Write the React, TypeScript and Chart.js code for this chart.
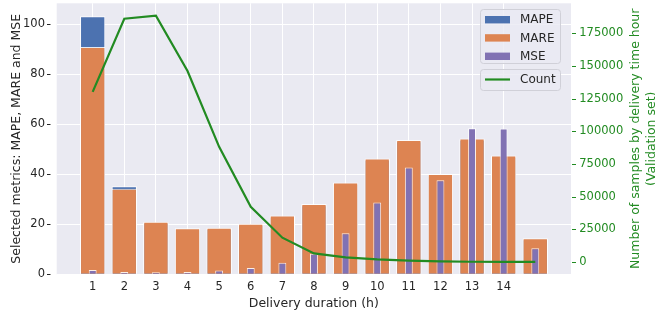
import React, { useEffect, useRef } from 'react';
import { Chart, registerables } from 'chart.js';

Chart.register(...registerables);

// ---- data ----
const durations = [1, 2, 3, 4, 5, 6, 7, 8, 9, 10, 11, 12, 13, 14, 15];
const xTickValues = [1, 2, 3, 4, 5, 6, 7, 8, 9, 10, 11, 12, 13, 14];
const xTickLabels = ['1', '2', '3', '4', '5', '6', '7', '8', '9', '10', '11', '12', '13', '14'];
const mapeValues = [103.1, 35.2, 20.6, 18.0, 18.2, 19.8, 23.0, 27.6, 36.2, 45.8, 53.2, 39.6, 53.8, 47.0, 14.0];
const mareValues = [90.8, 34.2, 21.0, 18.4, 18.6, 20.2, 23.5, 28.1, 36.7, 46.3, 53.7, 40.1, 54.3, 47.5, 14.4];
const mseValues = [1.7, 0.9, 0.8, 0.9, 1.5, 2.5, 4.6, 8.2, 16.4, 28.7, 42.7, 37.6, 58.4, 58.3, 10.4];
const countValues = [130100, 186100, 188400, 146100, 88100, 42200, 18600, 6600, 3600, 2000, 1000, 500, 200, 100, 50];
const leftTicks = [0, 20, 40, 60, 80, 100];
const rightTicks = [0, 25000, 50000, 75000, 100000, 125000, 150000, 175000];

const FONT = "'DejaVu Sans', 'Liberation Sans', sans-serif";
const TEXT = '#262626';
const GREEN = '#228B22';
const BLUE = '#4C72B0';
const ORANGE = '#DD8452';
const PURPLE = '#8172B3';
const EDGE = 'rgba(255,255,255,0.85)';
const PLOT_BG = '#EAEAF2';

const toPoints = (vals: number[]) => durations.map((d, i) => ({ x: d, y: vals[i] }));

const bgPlugin = {
  id: 'plotBg',
  beforeDraw(chart: any) {
    const { ctx, chartArea: a } = chart;
    ctx.save();
    ctx.fillStyle = PLOT_BG;
    ctx.fillRect(a.left, a.top, a.right - a.left, a.bottom - a.top);
    ctx.restore();
  },
};

const decorPlugin = {
  id: 'decor',
  afterDraw(chart: any) {
    const { ctx, chartArea: a, scales } = chart;
    ctx.save();
    // tick dashes
    ctx.lineWidth = 1;
    ctx.strokeStyle = TEXT;
    leftTicks.forEach((v) => {
      const y = Math.round(scales.y.getPixelForValue(v)) + 0.5;
      ctx.beginPath();
      ctx.moveTo(47, y);
      ctx.lineTo(50.5, y);
      ctx.stroke();
    });
    ctx.strokeStyle = GREEN;
    rightTicks.forEach((v) => {
      const y = Math.round(scales.y1.getPixelForValue(v)) + 0.5;
      ctx.beginPath();
      ctx.moveTo(a.right + 1, y);
      ctx.lineTo(a.right + 5, y);
      ctx.stroke();
    });

    // axis titles
    const cy = (a.top + a.bottom) / 2;
    ctx.font = `12.5px ${FONT}`;
    ctx.textAlign = 'center';
    ctx.textBaseline = 'alphabetic';
    ctx.fillStyle = TEXT;
    ctx.fillText('Delivery duration (h)', (a.left + a.right) / 2, 306.5);

    ctx.save();
    ctx.translate(20.3, cy);
    ctx.rotate(-Math.PI / 2);
    ctx.fillText('Selected metrics: MAPE, MARE and MSE', 0, 0);
    ctx.restore();

    ctx.fillStyle = GREEN;
    ctx.save();
    ctx.translate(639, cy);
    ctx.rotate(-Math.PI / 2);
    ctx.fillText('Number of samples by delivery time hour', 0, 0);
    ctx.restore();
    ctx.save();
    ctx.translate(655, cy);
    ctx.rotate(-Math.PI / 2);
    ctx.fillText('(Validation set)', 0, 0);
    ctx.restore();

    // legends
    const ds = chart.data.datasets;
    const barItems = ['MAPE', 'MARE', 'MSE'].map((l) => ds.find((d: any) => d.label === l));
    const lineItem = ds.find((d: any) => d.label === 'Count');

    ctx.fillStyle = 'rgba(234,234,242,0.8)';
    ctx.strokeStyle = '#d0d0d8';
    ctx.lineWidth = 1;
    ctx.beginPath();
    ctx.roundRect(480.5, 9.5, 80, 54, 3);
    ctx.fill();
    ctx.stroke();

    ctx.font = `12px ${FONT}`;
    ctx.textAlign = 'left';
    ctx.textBaseline = 'middle';
    const rows = [19.7, 37.9, 56.3];
    barItems.forEach((d: any, i: number) => {
      ctx.fillStyle = d.backgroundColor;
      ctx.fillRect(485, rows[i] - 3.7, 25, 7.4);
      ctx.fillStyle = TEXT;
      ctx.fillText(d.label, 520, rows[i] + 0.5);
    });

    ctx.fillStyle = 'rgba(234,234,242,0.8)';
    ctx.strokeStyle = '#d0d0d8';
    ctx.beginPath();
    ctx.roundRect(480.5, 69.5, 80, 21, 3);
    ctx.fill();
    ctx.stroke();
    ctx.strokeStyle = lineItem.borderColor;
    ctx.lineWidth = 2.2;
    ctx.beginPath();
    ctx.moveTo(485, 79.5);
    ctx.lineTo(510, 79.5);
    ctx.stroke();
    ctx.fillStyle = TEXT;
    ctx.fillText(lineItem.label, 520, 80);

    ctx.restore();
  },
};

export default function App() {
  const ref = useRef<HTMLCanvasElement | null>(null);

  useEffect(() => {
    if (!ref.current) return;
    const barCommon = {
      type: 'bar',
      yAxisID: 'y',
      xAxisID: 'x',
      grouped: false,
      categoryPercentage: 1,
      borderColor: EDGE,
      borderWidth: 1,
    };
    const chart = new Chart(ref.current, {
      type: 'bar',
      data: {
        datasets: [
          {
            type: 'line',
            label: 'Count',
            data: toPoints(countValues),
            yAxisID: 'y1',
            xAxisID: 'x',
            borderColor: GREEN,
            backgroundColor: GREEN,
            borderWidth: 2.2,
            pointRadius: 0,
            tension: 0,
            order: 0,
          },
          { ...barCommon, label: 'MSE', data: toPoints(mseValues), backgroundColor: PURPLE, barPercentage: 0.25, order: 1 },
          { ...barCommon, label: 'MARE', data: toPoints(mareValues), backgroundColor: ORANGE, barPercentage: 0.8, order: 2 },
          { ...barCommon, label: 'MAPE', data: toPoints(mapeValues), backgroundColor: BLUE, barPercentage: 0.8, order: 3 },
        ] as any,
      },
      options: {
        responsive: false,
        animation: false,
        devicePixelRatio: 1,
        layout: { padding: { top: 3.3, left: 0, right: 0, bottom: 0 } },
        plugins: { legend: { display: false }, tooltip: { enabled: false } },
        scales: {
          x: {
            type: 'linear',
            offset: false,
            min: -0.138,
            max: 16.13,
            afterBuildTicks: (s: any) => {
              s.ticks = xTickValues.map((v) => ({ value: v }));
            },
            afterFit: (s: any) => {
              s.height = 37.7;
              s.paddingLeft = 0;
              s.paddingRight = 0;
            },
            ticks: {
              autoSkip: false,
              maxRotation: 0,
              padding: 6.3,
              color: TEXT,
              font: { family: FONT, size: 11.5 },
              callback: (_v: any, i: number) => xTickLabels[i],
            },
            grid: { color: '#ffffff', lineWidth: 1, drawTicks: false, offset: false },
            border: { display: false },
          },
          y: {
            position: 'left',
            min: 0,
            max: 108.3,
            afterBuildTicks: (s: any) => {
              s.ticks = leftTicks.map((v) => ({ value: v }));
            },
            afterFit: (s: any) => {
              s.width = 56.7;
              s.paddingTop = 0;
              s.paddingBottom = 0;
            },
            ticks: { padding: 11.7, color: TEXT, font: { family: FONT, size: 11.5 } },
            grid: { color: '#ffffff', lineWidth: 1, drawTicks: false },
            border: { display: false },
          },
          y1: {
            position: 'right',
            min: -9400,
            max: 197900,
            afterBuildTicks: (s: any) => {
              s.ticks = rightTicks.map((v) => ({ value: v }));
            },
            afterFit: (s: any) => {
              s.width = 84;
              s.paddingTop = 0;
              s.paddingBottom = 0;
            },
            ticks: {
              padding: 8.3,
              color: GREEN,
              font: { family: FONT, size: 11.5 },
              callback: (v: any) => String(v),
            },
            grid: { display: false, drawTicks: false },
            border: { display: false },
          },
        },
      } as any,
      plugins: [bgPlugin, decorPlugin],
    });
    return () => chart.destroy();
  }, []);

  return (
    <div style={{ position: 'fixed', left: 0, top: 0, width: 655, height: 312, background: '#ffffff' }}>
      <canvas ref={ref} width={655} height={312} style={{ width: 655, height: 312, display: 'block' }} />
    </div>
  );
}
